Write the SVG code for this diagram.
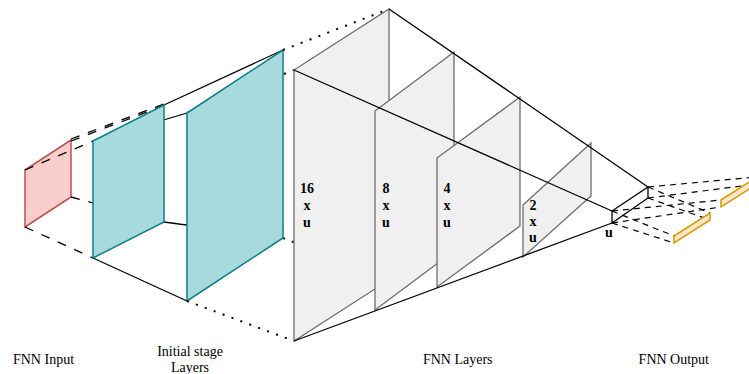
<svg xmlns="http://www.w3.org/2000/svg" width="749" height="374" viewBox="0 0 749 374">
<style>
.ln{stroke:#000;stroke-width:1.3;fill:none}
.dash{stroke:#000;stroke-width:1.3;fill:none;stroke-dasharray:9 9}
.dash2{stroke:#000;stroke-width:1.2;fill:none;stroke-dasharray:6 5}
.dot{stroke:#000;stroke-width:2;fill:none;stroke-dasharray:2 7.5}
.red{fill:#f8cecc;stroke:#b85450;stroke-width:1.5}
.teal{fill:#a6dadc;stroke:#0e8088;stroke-width:1.5}
.gray{fill:#f0f0f0;stroke:#6e6e6e;stroke-width:1.3}
.out{fill:none;stroke:#000;stroke-width:1.3}
.org{fill:#ffe6cc;stroke:#d79b00;stroke-width:1.5}
</style>
<rect width="749" height="374" fill="#fff"/>
<g id="input">
<polygon class="red" points="25,170 71,140 71,197 25,227"/>
</g>
<g id="connectors-left">
<line class="dash" x1="25" y1="170" x2="93" y2="141"/>
<line class="dash" x1="71" y1="139" x2="164" y2="104"/>
<line class="dash" x1="71" y1="141" x2="164" y2="105.5"/>
<line class="dash" x1="71" y1="197" x2="164" y2="222"/>
<line class="dash" x1="25" y1="227" x2="93" y2="258"/>
<line class="ln" x1="93" y1="141" x2="187" y2="113"/>
<line class="ln" x1="164" y1="105" x2="283" y2="50"/>
<line class="ln" x1="164" y1="222" x2="283" y2="238"/>
<line class="ln" x1="93" y1="258" x2="187" y2="301"/>
<line class="dot" x1="187" y1="113" x2="294" y2="70"/>
<line class="dot" x1="283" y1="238" x2="389" y2="280"/>
</g>
<g id="initial-1">
<polygon class="teal" points="93,141 164,105 164,222 93,258"/>
</g>
<g id="initial-2">
<polygon class="teal" points="187,113 283,50 283,238 187,301"/>
</g>
<g id="connectors-dotted">
<line class="dot" x1="283" y1="50" x2="389" y2="9"/>
<line class="dot" x1="187" y1="301" x2="294" y2="341"/>
</g>
<g id="layer-16">
<polygon class="gray" points="294,70 389,9 389,280 294,341"/>
</g>
<g id="layer-8">
<polygon class="gray" points="375,111 454,52 454,251 375,310"/>
</g>
<g id="layer-4">
<polygon class="gray" points="437,158 520,97 520,226 437,287"/>
</g>
<g id="layer-2">
<polygon class="gray" points="523,205 591,143 591,196 523,257"/>
</g>
<g id="connectors-main">
<line class="ln" x1="389" y1="9" x2="648" y2="187"/>
<line class="ln" x1="294" y1="70" x2="612" y2="211"/>
<line class="ln" x1="294" y1="341" x2="612" y2="223"/>
</g>
<g id="output-layer">
<polygon class="out" points="612,211 648,187 648,198 612,223"/>
</g>
<g id="connectors-right">
<line class="dash2" x1="612" y1="211" x2="674" y2="236"/>
<line class="dash2" x1="612" y1="223" x2="674" y2="243"/>
<line class="dash2" x1="648" y1="187" x2="710" y2="213"/>
<line class="dash2" x1="648" y1="198" x2="710" y2="220"/>
<line class="dash2" x1="612" y1="211" x2="721" y2="200"/>
<line class="dash2" x1="612" y1="223" x2="721" y2="207"/>
<line class="dash2" x1="648" y1="187" x2="757" y2="177"/>
<line class="dash2" x1="648" y1="198" x2="757" y2="184"/>
</g>
<g id="output-1">
<polygon class="org" points="674,236 710,213 710,220 674,243"/>
</g>
<g id="output-2">
<polygon class="org" points="721,200 757,177 757,184 721,207"/>
</g>
<g id="layer-labels" font-family="Liberation Serif, Times New Roman, serif" font-size="14" font-weight="bold" text-anchor="middle" fill="#000">
<text x="307" y="193">16</text>
<text x="307" y="210">x</text>
<text x="307" y="227">u</text>
<text x="386" y="193">8</text>
<text x="386" y="210">x</text>
<text x="386" y="227">u</text>
<text x="447" y="193">4</text>
<text x="447" y="210">x</text>
<text x="447" y="227">u</text>
<text x="533" y="210">2</text>
<text x="533" y="226">x</text>
<text x="533" y="242">u</text>
<text x="609" y="237">u</text>
</g>
<g id="captions" font-family="Liberation Serif, Times New Roman, serif" font-size="14" text-anchor="middle" fill="#000">
<text x="43.5" y="364">FNN Input</text>
<text x="190" y="356">Initial stage</text>
<text x="190" y="372">Layers</text>
<text x="457.7" y="364">FNN Layers</text>
<text x="673.8" y="364">FNN Output</text>
</g>
</svg>
